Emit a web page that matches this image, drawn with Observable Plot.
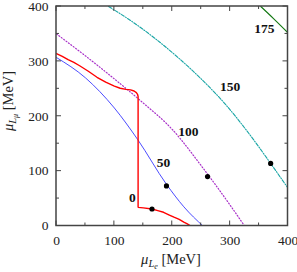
<!DOCTYPE html>
<html>
<head>
<meta charset="utf-8">
<script src="https://cdn.jsdelivr.net/npm/d3@7"></script>
<script src="https://cdn.jsdelivr.net/npm/@observablehq/plot@0.6"></script>
<style>
  html, body { margin: 0; padding: 0; background: #fff; }
</style>
</head>
<body>
<div id="chart"></div>
<script>
// ---- data ----
const xTicks = [0, 100, 200, 300, 400];
const yTicks = [0, 100, 200, 300, 400];
const minorTicks = [50, 150, 250, 350];

// curve "0" (red): upper branch, vertical jump at ~141, lower branch
const redX = [0, 10, 20, 30, 40, 55, 70, 85, 100, 110, 120, 128, 134, 138, 140, 141, 141, 150, 165, 175, 185, 195, 203, 212, 220, 226, 232];
const redY = [314, 309, 303, 298, 292, 282, 271, 262, 255, 251, 249, 248, 246, 243, 240, 236, 34, 33, 31, 28, 25, 20, 16, 12, 7, 4, 0];

// curve "50" (blue)
const blueX = [0, 50, 100, 140, 190, 220, 253];
const blueY = [307, 270, 215, 158, 76, 35, 0];

// curve "100" (purple, dotted)
const purpleX = [0, 50, 100, 150, 200, 250, 300, 325];
const purpleY = [350, 310, 268, 224, 176, 110, 38, 0];

// curve "150" (teal, dash-dot)
const tealX = [90, 130, 170, 210, 250, 290, 335, 370, 400];
const tealY = [400, 373, 342, 307, 268, 224, 165, 114, 69];

// curve "175" (green)
const greenX = [353, 375, 400];
const greenY = [400, 378, 352];

// black markers
const dotX = [165, 190, 261, 370];
const dotY = [31, 73, 90, 114];

// curve labels
const labelText = ["0", "50", "100", "150", "175"];
const labelX = [131, 185, 228, 300, 359];
const labelY = [51, 116, 172, 254, 360];

// ---- build tables ----
const zip = (xs, ys) => xs.map((x, i) => ({x, y: ys[i]}));
const red = zip(redX, redY);
const blue = zip(blueX, blueY);
const purple = zip(purpleX, purpleY);
const teal = zip(tealX, tealY);
const green = zip(greenX, greenY);
const dots = zip(dotX, dotY);
const labels = labelText.map((t, i) => ({t, x: labelX[i], y: labelY[i]}));

const FONT = "'Liberation Serif', 'DejaVu Serif', serif";

// ticks (inward, on all four sides), frame and axis titles
function decorations(index, {x, y}, values, dims) {
  const g = d3.create("svg:g");
  const L = dims.marginLeft, R = dims.width - dims.marginRight;
  const T = dims.marginTop, B = dims.height - dims.marginBottom;
  const ticks = [...xTicks.map(v => [v, 5]), ...minorTicks.map(v => [v, 3])];
  const tg = g.append("g").attr("stroke", "#444").attr("stroke-width", 1);
  for (const [v, len] of ticks) {
    const px = x(v);
    tg.append("line").attr("x1", px).attr("x2", px).attr("y1", B).attr("y2", B - len);
    tg.append("line").attr("x1", px).attr("x2", px).attr("y1", T).attr("y2", T + len);
  }
  const yt = [...yTicks.map(v => [v, 5]), ...minorTicks.map(v => [v, 3])];
  for (const [v, len] of yt) {
    const py = y(v);
    tg.append("line").attr("y1", py).attr("y2", py).attr("x1", L).attr("x2", L + len);
    tg.append("line").attr("y1", py).attr("y2", py).attr("x1", R).attr("x2", R - len);
  }
  g.append("rect").attr("x", L).attr("y", T).attr("width", R - L).attr("height", B - T)
    .attr("fill", "none").attr("stroke", "#444").attr("stroke-width", 1.5);

  // x title
  const xt = g.append("text").attr("x", 171).attr("y", 264)
    .attr("text-anchor", "middle").attr("font-family", FONT).attr("font-size", 14.5).attr("fill", "#222");
  xt.append("tspan").attr("font-style", "italic").text("μ");
  xt.append("tspan").attr("font-style", "italic").attr("font-size", 10.5).attr("dy", 3).text("L");
  xt.append("tspan").attr("font-style", "italic").attr("font-size", 8).attr("dy", 2).text("e");
  xt.append("tspan").attr("dy", -5).text(" [MeV]");

  // y title
  const ytt = g.append("text").attr("transform", "translate(13,101) rotate(-90)")
    .attr("text-anchor", "middle").attr("font-family", FONT).attr("font-size", 14.5).attr("fill", "#222");
  ytt.append("tspan").attr("font-style", "italic").text("μ");
  ytt.append("tspan").attr("font-style", "italic").attr("font-size", 10.5).attr("dy", 3).text("L");
  ytt.append("tspan").attr("font-style", "italic").attr("font-size", 8).attr("dy", 2).text("μ");
  ytt.append("tspan").attr("dy", -5).text(" [MeV]");
  return g.node();
}

const chart = Plot.plot({
  width: 297,
  height: 272,
  marginLeft: 56,
  marginRight: 9.5,
  marginTop: 6,
  marginBottom: 46.5,
  style: {fontFamily: FONT, fontSize: "13px", background: "#fff", color: "#222"},
  x: {domain: [0, 400]},
  y: {domain: [0, 400]},
  marks: [
    Plot.axisX({ticks: xTicks, tickSize: 0, tickPadding: 9, label: null, fontSize: 13.5, fontFamily: FONT, tickFormat: d => d}),
    Plot.axisY({ticks: yTicks, tickSize: 0, tickPadding: 8, label: null, fontSize: 13.5, fontFamily: FONT, tickFormat: d => d}),
    Plot.line(purple, {x: "x", y: "y", stroke: "#a830c8", strokeWidth: 1.2, strokeDasharray: "1,2", curve: "monotone-x", clip: true}),
    Plot.line(teal, {x: "x", y: "y", stroke: "#1aa5a5", strokeWidth: 1.1, strokeDasharray: "3.5,1.5,1,1.5", curve: "monotone-x", clip: true}),
    Plot.line(green, {x: "x", y: "y", stroke: "#117711", strokeWidth: 1.1, curve: "monotone-x", clip: true}),
    Plot.line(blue, {x: "x", y: "y", stroke: "#3838ff", strokeWidth: 0.9, curve: "monotone-x", clip: true}),
    Plot.line(red, {x: "x", y: "y", stroke: "#ff0000", strokeWidth: 1.4, strokeLinejoin: "miter", curve: "linear", clip: true}),
    Plot.dot(dots, {x: "x", y: "y", r: 2.6, fill: "#000", stroke: "none"}),
    Plot.text(labels, {x: "x", y: "y", text: "t", fontWeight: "bold", fontSize: 13.5, fontFamily: FONT, fill: "#111"}),
    decorations
  ]
});
document.getElementById("chart").appendChild(chart);
</script>
</body>
</html>
